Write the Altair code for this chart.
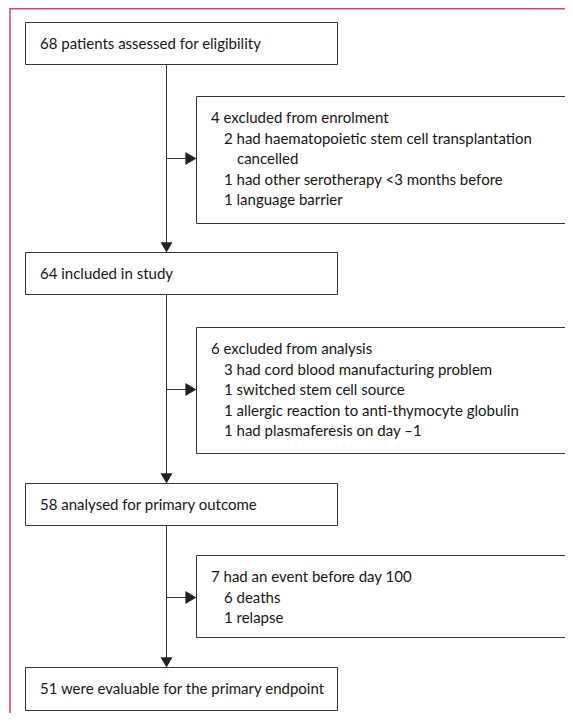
import altair as alt
import pandas as pd

# ---------------- content ----------------
main_steps = [
    "68 patients assessed for eligibility",
    "64 included in study",
    "58 analysed for primary outcome",
    "51 were evaluable for the primary endpoint",
]
enrolment_lines = [
    "4 excluded from enrolment",
    "2 had haematopoietic stem cell transplantation",
    "cancelled",
    "1 had other serotherapy <3 months before",
    "1 language barrier",
]
enrolment_indent = [0, 1, 2, 1, 1]
analysis_lines = [
    "6 excluded from analysis",
    "3 had cord blood manufacturing problem",
    "1 switched stem cell source",
    "1 allergic reaction to anti-thymocyte globulin",
    "1 had plasmaferesis on day \u20131",
]
analysis_indent = [0, 1, 1, 1, 1]
event_lines = [
    "7 had an event before day 100",
    "6 deaths",
    "1 relapse",
]
event_indent = [0, 1, 1]

# ---------------- layout (page pixel units) ----------------
MAIN_X = (25.5, 337.5)
SIDE_X = (196.5, 566.5)
SPINE_X = 166.5
main_y = [(22.5, 64.5), (252.5, 294.5), (483.5, 525.5), (667.5, 710.5)]
side_y = [(96.5, 223.5), (327.5, 453.5), (555.5, 637.5)]
arrow_y = [158.5, 389.5, 597.5]
TEXT_MAIN_X = 40
TEXT_SIDE_X = [211, 224, 237]
LINE_GAP = 20.6
FIRST_LINE = 21.5

W, H = 557, 705
xs = alt.Scale(domain=[8, 8 + W], range=[0, W], nice=False, zero=False)
ys = alt.Scale(domain=[8, 8 + H], range=[0, H], nice=False, zero=False)

# boxes
boxes = []
for (y0, y1) in main_y:
    boxes.append(dict(x0=MAIN_X[0], x1=MAIN_X[1], y0=y0, y1=y1))
for (y0, y1) in side_y:
    boxes.append(dict(x0=SIDE_X[0], x1=SIDE_X[1], y0=y0, y1=y1))
boxes = pd.DataFrame(boxes)

# connector lines
segs = []
for i in range(3):
    segs.append(dict(x0=SPINE_X, x1=SPINE_X, y0=main_y[i][1], y1=main_y[i + 1][0] - 6))
    segs.append(dict(x0=SPINE_X, x1=SIDE_X[0] - 8, y0=arrow_y[i], y1=arrow_y[i]))
segs = pd.DataFrame(segs)

down_heads = pd.DataFrame([dict(x=SPINE_X, y=main_y[i + 1][0] - 5.2) for i in range(3)])
right_heads = pd.DataFrame([dict(x=SIDE_X[0] - 5.6, y=arrow_y[i]) for i in range(3)])

# texts
texts = []
for i, t in enumerate(main_steps):
    texts.append(dict(x=TEXT_MAIN_X, y=(main_y[i][0] + main_y[i][1]) / 2, t=t))
for k, (lines, ind) in enumerate([(enrolment_lines, enrolment_indent),
                                   (analysis_lines, analysis_indent),
                                   (event_lines, event_indent)]):
    for j, (t, d) in enumerate(zip(lines, ind)):
        texts.append(dict(x=TEXT_SIDE_X[d], y=side_y[k][0] + FIRST_LINE + j * LINE_GAP, t=t))
texts = pd.DataFrame(texts)

frame = pd.DataFrame([
    dict(x0=10, x1=8 + W, y0=8.75, y1=8.75),
    dict(x0=10, x1=10, y0=8, y1=8 + H),
])

LINE = "#333333"
X = lambda f: alt.X(f, type="quantitative", scale=xs, axis=None)
Y = lambda f: alt.Y(f, type="quantitative", scale=ys, axis=None)

frame_layer = alt.Chart(frame).mark_rule(color="#d9416d", strokeWidth=1.5).encode(
    x=X("x0"), x2="x1", y=Y("y0"), y2="y1")
seg_layer = alt.Chart(segs).mark_rule(color=LINE, strokeWidth=1).encode(
    x=X("x0"), x2="x1", y=Y("y0"), y2="y1")
box_layer = alt.Chart(boxes).mark_rect(fill="white", stroke=LINE, strokeWidth=1).encode(
    x=X("x0"), x2="x1", y=Y("y0"), y2="y1")
down_layer = alt.Chart(down_heads).mark_point(
    shape="M-1,-0.85L1,-0.85L0,0.85Z", size=144, filled=True, color="#222222", opacity=1
).encode(x=X("x"), y=Y("y"))
right_layer = alt.Chart(right_heads).mark_point(
    shape="M-0.85,-1L0.85,0L-0.85,1Z", size=169, filled=True, color="#222222", opacity=1
).encode(x=X("x"), y=Y("y"))
text_layer = alt.Chart(texts).mark_text(
    align="left", baseline="middle", font="Lato", fontSize=15, color="#161616"
).encode(x=X("x"), y=Y("y"), text="t:N")

chart = alt.layer(frame_layer, seg_layer, box_layer, down_layer, right_layer, text_layer).properties(
    width=W, height=H, padding=0, autosize=alt.AutoSizeParams(type="none")
).configure_view(stroke=None)

chart.save("out.html", embed_options={"renderer": "svg", "actions": False})
